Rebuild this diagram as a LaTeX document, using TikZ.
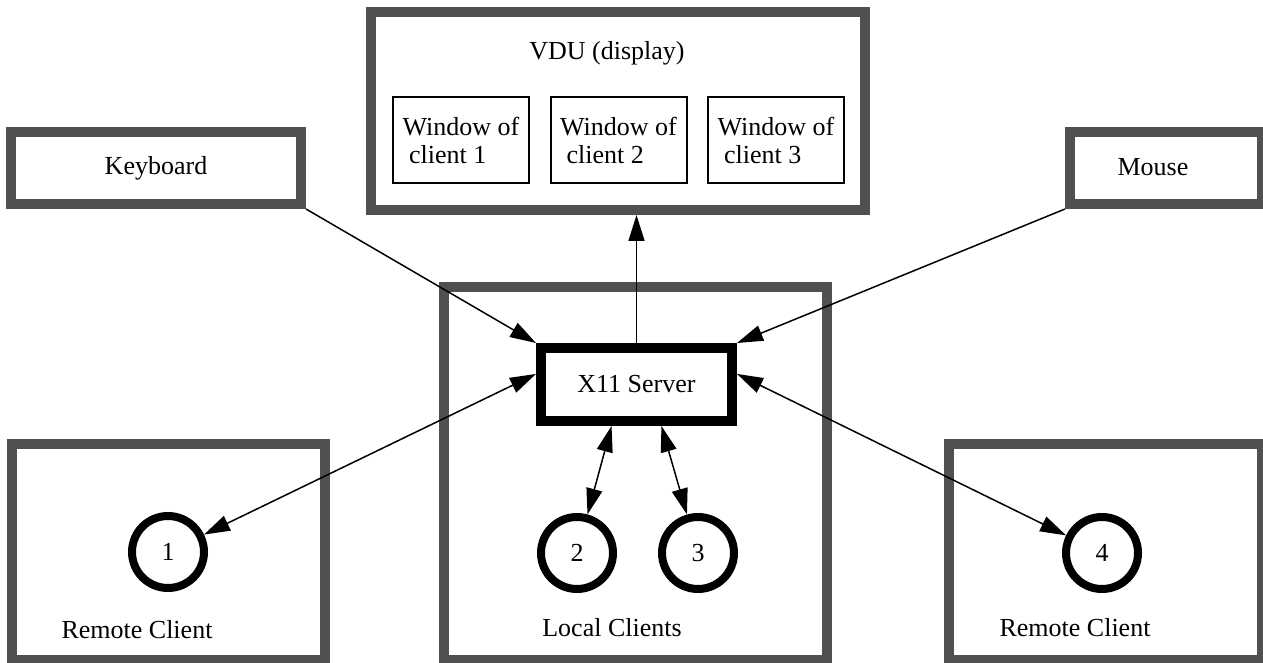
\documentclass[tikz,border=0pt]{standalone}
\usepackage{fontspec}
\setmainfont{Liberation Serif}
\usetikzlibrary{arrows.meta}
\definecolor{boxgray}{RGB}{80,80,80}

\begin{document}
\begin{tikzpicture}[x=0.5pt,y=-0.5pt,
    font=\fontsize{13}{14}\selectfont,
    >={Triangle[length=13pt,width=8pt]},
    hostbox/.style={draw=boxgray,line width=5pt,rectangle,inner sep=0pt},
    server/.style={draw,line width=5pt,rectangle,inner sep=0pt},
    winbox/.style={draw,line width=1pt,minimum width=68pt,minimum height=43pt,
                   inner sep=0pt,align=left},
    client/.style={draw,circle,line width=4pt,minimum size=36pt,inner sep=0pt},
    link/.style={line width=0.75pt}]
    \useasboundingbox (0,0) rectangle (1263,663);
    % display
    \node[hostbox,minimum width=247pt,minimum height=99pt] (vdu) at (618,111) {};
    \node (vdulabel) at (607,53) {VDU (display)};
    \node[winbox] (win_1) at (461,140)   {Window of\\\mbox{} client 1};
    \node[winbox] (win_2) at (618.5,140) {Window of\\\mbox{} client 2};
    \node[winbox] (win_3) at (776,140)   {Window of\\\mbox{} client 3};
    % input devices
    \node[hostbox,minimum width=145pt,minimum height=36pt] (kbd) at (156,168) {Keyboard};
    \node[hostbox,minimum width=96pt,minimum height=36pt] (mouse) at (1166,168) {};
    \node (mouselabel) at (1153,167) {Mouse};
    % hosts
    \node[hostbox,minimum width=156.5pt,minimum height=108pt] (remote_1) at (168.5,552) {};
    \node[hostbox,minimum width=191.5pt,minimum height=186.5pt] (local) at (635.5,473.5) {};
    \node[hostbox,minimum width=156.5pt,minimum height=108pt] (remote_2) at (1105.5,552) {};
    \node (remotelabel_1) at (137,630)  {Remote Client};
    \node (locallabel)    at (612,628)  {Local Clients};
    \node (remotelabel_2) at (1075,628) {Remote Client};
    % server and clients
    \node[server,minimum width=95.5pt,minimum height=36.5pt] (x11) at (636.5,384.5) {X11 Server};
    \node[client] (c_1) at (168,552)  {1};
    \node[client] (c_2) at (577,553)  {2};
    \node[client] (c_3) at (698,553)  {3};
    \node[client] (c_4) at (1102,553) {4};
    \path[->,link]
    (kbd.south east)  edge (x11.north west)
    (mouse.south west) edge (x11.north east)
    (x11.north)       edge (x11.north |- vdu.south)
    % client links
    (x11.174) edge [<->] (c_1)
    (x11.239) edge [<->] (c_2)
    (x11.301) edge [<->] (c_3)
    (x11.6)   edge [<->] (c_4);
\end{tikzpicture}
\end{document}
